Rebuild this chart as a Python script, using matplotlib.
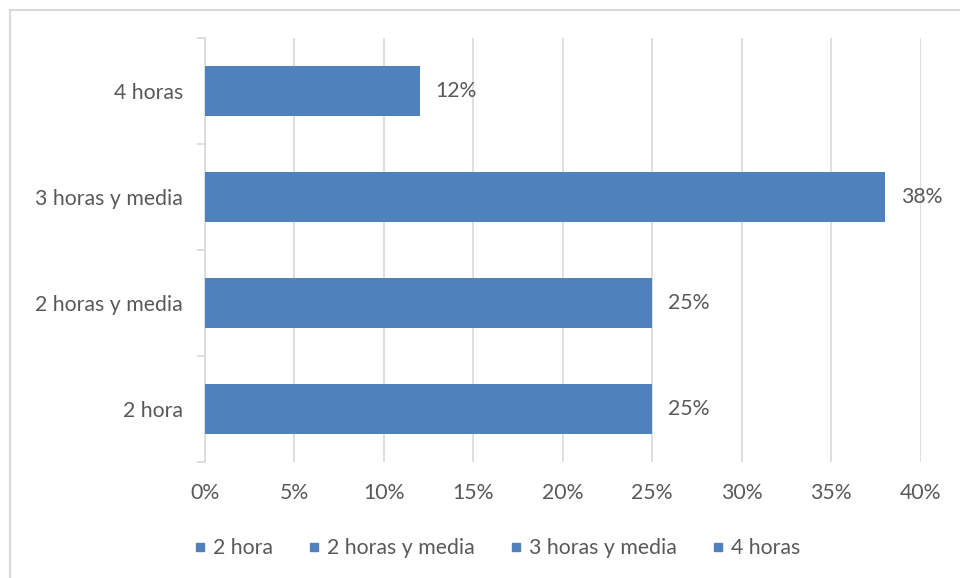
import matplotlib
matplotlib.use("Agg")
import matplotlib.pyplot as plt
from matplotlib.lines import Line2D

categories = ["2 hora", "2 horas y media", "3 horas y media", "4 horas"]
values = [0.25, 0.25, 0.38, 0.12]
value_labels = ["25%", "25%", "38%", "12%"]
xticks = [0, 0.05, 0.10, 0.15, 0.20, 0.25, 0.30, 0.35, 0.40]
xtick_labels = ["0%", "5%", "10%", "15%", "20%", "25%", "30%", "35%", "40%"]

BAR = "#4f81bd"
TXT = "#595959"
GRID = "#d9d9d9"
FS = 15.3
plt.rcParams['font.family'] = ['Lato', 'DejaVu Sans']

fig = plt.figure(figsize=(9.6, 5.78), dpi=100)
ax = fig.add_axes([205/960, 1-462/578, (920.5-205)/960, (462-38)/578])

y = list(range(len(categories)))
ax.barh(y, values, height=0.47, color=BAR, zorder=3)
for yi, v, lab in zip(y, values, value_labels):
    ax.text(v + 0.009, yi, lab, va='center', ha='left', fontsize=FS, color=TXT)

ax.set_xlim(0, 0.40)
ax.set_ylim(-0.5, len(categories) - 0.5)
ax.set_xticks(xticks)
ax.set_xticklabels(xtick_labels, fontsize=FS, color=TXT)
ax.set_yticks(y)
ax.set_yticklabels(categories, fontsize=FS, color=TXT)
ax.tick_params(axis='x', length=0, pad=15)
ax.tick_params(axis='y', length=0, pad=16)
ax.set_yticks([i - 0.5 for i in range(len(categories) + 1)], minor=True)
ax.tick_params(axis='y', which='minor', length=6, color=GRID, width=1.2)
ax.grid(axis='x', color=GRID, linewidth=1.2, zorder=0)
for s in ['top', 'right', 'bottom']:
    ax.spines[s].set_visible(False)
ax.spines['left'].set_color(GRID)
ax.spines['left'].set_linewidth(1.2)

handles = [Line2D([], [], marker='s', linestyle='none', color=BAR, markersize=6) for _ in categories]
fig.legend(handles, categories, loc='center', bbox_to_anchor=(496/960, 1-548/578), ncol=4,
           frameon=False, fontsize=FS, labelcolor=TXT, handletextpad=0.2, columnspacing=1.55,
           handlelength=0.8)

# outer border
fig.add_artist(Line2D([10/960, 1], [1-10/578, 1-10/578], color=GRID, linewidth=1.5, transform=fig.transFigure))
fig.add_artist(Line2D([10/960, 10/960], [0, 1-10/578], color=GRID, linewidth=1.5, transform=fig.transFigure))

fig.savefig("out.png", dpi=100)
